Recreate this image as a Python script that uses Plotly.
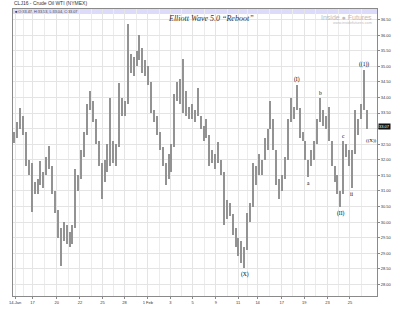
import plotly.graph_objects as go

# ---- data (approximate, per ~3px bar) ----
lows = [32.55, 32.70, 33.00, 32.80, 31.80, 31.50, 30.33, 30.90, 30.90, 31.20,
        31.10, 31.50, 31.70, 30.90, 30.30, 29.50, 28.58, 29.40, 29.30, 29.20,
        29.30, 29.80, 31.00, 31.40, 32.10, 32.80, 33.60, 33.20, 32.50, 31.80,
        30.74, 31.30, 31.60, 31.80, 31.90, 31.80, 32.40, 33.40, 33.40, 33.80,
        34.80, 34.70, 35.00, 35.20, 34.80, 34.70, 34.40, 33.50, 33.20, 32.80,
        32.30, 31.80, 31.20, 31.40, 31.60, 32.40, 33.90, 33.80, 33.50, 33.40,
        33.30, 33.30, 33.20, 33.40, 33.00, 32.60, 32.70, 31.80, 31.90, 31.70,
        31.90, 31.50, 29.90, 30.10, 30.20, 29.60, 29.20, 28.90, 28.70, 28.52,
        29.10, 30.00, 30.50, 31.20, 31.50, 31.50, 32.00, 32.30, 33.00, 32.30,
        31.20, 30.75, 31.00, 31.40, 32.00, 33.20, 33.30, 33.60, 32.70, 32.60,
        32.00, 31.44, 31.80, 32.00, 32.50, 33.20, 33.10, 33.00, 32.60, 31.80,
        31.30, 30.90, 30.50, 30.90, 32.10, 31.80, 31.10, 32.20, 32.80, 33.30,
        33.60, 33.00]
highs = [32.90, 33.20, 33.66, 33.40, 32.90, 32.00, 31.90, 31.30, 31.40, 31.95,
         31.60, 32.10, 32.43, 31.80, 31.00, 30.40, 29.80, 30.00, 29.90, 29.70,
         29.90, 31.70, 31.50, 32.30, 32.90, 33.80, 34.21, 33.90, 33.30, 32.60,
         31.90, 32.00, 32.50, 34.00, 32.60, 32.50, 34.45, 34.00, 33.90, 36.36,
         35.40, 35.30, 35.50, 36.00, 35.60, 35.20, 35.00, 34.50, 33.60, 33.40,
         32.90, 32.40, 31.90, 32.20, 32.50, 34.10, 34.50, 34.60, 35.25, 34.20,
         33.70, 33.80, 33.60, 34.30, 33.40, 33.10, 33.30, 32.80, 32.30, 32.20,
         32.58, 32.00, 31.60, 30.70, 30.60, 30.25, 29.80, 29.50, 29.40, 29.20,
         30.30, 30.60, 31.90, 31.80, 32.20, 32.00, 32.70, 33.00, 33.90, 33.30,
         32.30, 31.40, 31.50, 32.10, 33.30, 34.00, 33.70, 34.40, 33.65, 32.90,
         32.60, 32.00, 32.30, 32.60, 33.30, 33.98, 33.60, 33.40, 33.70, 32.60,
         31.80, 31.50, 31.00, 32.60, 32.50, 32.30, 32.30, 33.60, 33.30, 33.80,
         34.87, 33.60]

tick_labels = ["14-Jan", "17", "20", "22", "25", "28", "1 Feb", "3", "5", "9",
               "11", "14", "17", "19", "23", "25"]
tick_bars = [0.2, 6.2, 14.5, 22.5, 30.2, 37.8, 45.8, 53.5, 61.2, 69.2,
             76.8, 83.5, 91.8, 99.5, 107.5, 115.2]
price_ticks = [28.0, 28.5, 29.0, 29.5, 30.0, 30.5, 31.0, 31.5, 32.0, 32.5,
               33.0, 33.5, 34.0, 34.5, 35.0, 35.5, 36.0, 36.5]

# wave labels: (bar index, text, side)
waves = [(79, "(X)", "low"), (97, "(I)", "high"), (101, "a", "low"),
         (105, "b", "high"), (112, "(II)", "low"), (113, "c", "high"),
         (116, "ii", "low"), (120, "((1))", "high")]
last_close = 33.07
legend_text = "\u25a0 O:33.47, H:33.53, L:33.04, C:33.07"

n = len(highs)
xs = list(range(n))
minor_vals = [(a + b) / 2 for a, b in zip(tick_bars[:-1], tick_bars[1:])] + [tick_bars[-1] + 4]
# the last-price box covers the nearest price label
price_text = ["" if abs(v - last_close) < 0.25 else "%.2f" % v for v in price_ticks]

fig = go.Figure()
fig.add_trace(go.Bar(
    x=xs, base=lows, y=[h - l for h, l in zip(highs, lows)],
    width=0.5, marker=dict(color="#939393", line=dict(width=0)),
    hoverinfo="skip", showlegend=False))

lab_font = dict(family="Liberation Serif", size=5.5, color="#000")
annotations = []
for idx, txt, side in waves:
    if side == "high":
        annotations.append(dict(x=idx, y=highs[idx], text=txt, showarrow=False,
                                yanchor="bottom", yshift=0, font=lab_font))
    else:
        annotations.append(dict(x=idx, y=lows[idx], text=txt, showarrow=False,
                                yanchor="top", yshift=-1, font=lab_font))
annotations.append(dict(x=n - 1, y=lows[-1], text="((X))", showarrow=False,
                        xanchor="center", yanchor="middle", xshift=5, yshift=-12,
                        font=dict(family="Liberation Serif", size=5, color="#000")))
# last price box on right axis
annotations.append(dict(xref="paper", x=1, y=last_close, text="%.2f" % last_close,
                        showarrow=False, xanchor="left", xshift=1, bgcolor="#111",
                        borderpad=0, font=dict(family="Liberation Sans", size=4, color="#fff")))
# titles / texts
annotations += [
    dict(xref="paper", yref="paper", x=0, y=1, xshift=-1, yshift=6, xanchor="left",
         yanchor="middle", text="CLJ16 - Crude Oil WTI (NYMEX)", showarrow=False,
         font=dict(family="Liberation Sans", size=5, color="#333")),
    dict(xref="paper", yref="paper", x=0, y=1, xshift=0, yshift=-2.5, xanchor="left",
         yanchor="middle", text=legend_text, showarrow=False,
         font=dict(family="Liberation Sans", size=3.8, color="#444")),
    dict(xref="paper", yref="paper", x=0.5, y=1, xshift=16, yshift=-9, xanchor="center",
         yanchor="middle", text="<i>Elliott Wave 5.0 \u201cReboot\u201d</i>", showarrow=False,
         font=dict(family="Liberation Serif", size=8, color="#333")),
    dict(xref="paper", yref="paper", x=1, y=1, xshift=-3, yshift=-8, xanchor="right",
         yanchor="middle", text="Inside \u25cf Futures", showarrow=False,
         font=dict(family="Liberation Sans", size=7, color="#bdbdbd")),
    dict(xref="paper", yref="paper", x=1, y=1, xshift=-3, yshift=-14, xanchor="right",
         yanchor="middle", text="www.insidefutures.com", showarrow=False,
         font=dict(family="Liberation Sans", size=3.8, color="#bdbdbd")),
]

fig.update_layout(
    width=400, height=313,
    margin=dict(l=13, r=12, t=8, b=15),
    paper_bgcolor="#ffffff", plot_bgcolor="#ffffff",
    bargap=0, showlegend=False,
    annotations=annotations,
    shapes=[dict(type="rect", xref="paper", yref="paper", x0=0, x1=1, y0=1,
                 y1=0.983, fillcolor="#dcdcfa", line=dict(width=0), layer="below")],
    xaxis=dict(range=[-0.5, 124.5], tickmode="array", tickvals=tick_bars,
               ticktext=tick_labels, showgrid=True, gridcolor="#e4e4e4", gridwidth=1,
               showline=True, linecolor="#8a8a8a", linewidth=1, mirror=True,
               ticks="outside", ticklen=2, tickcolor="#8a8a8a",
               tickfont=dict(family="Liberation Sans", size=4, color="#333"),
               minor=dict(tickmode="array", tickvals=minor_vals, showgrid=True,
                          gridcolor="#ececec", gridwidth=1),
               zeroline=False, fixedrange=True),
    yaxis=dict(range=[27.63, 36.84], side="right", tickmode="array",
               tickvals=price_ticks, ticktext=price_text,
               showgrid=True, gridcolor="#e4e4e4", gridwidth=1,
               showline=True, linecolor="#8a8a8a", linewidth=1, mirror=True,
               ticks="outside", ticklen=2, tickcolor="#8a8a8a",
               tickfont=dict(family="Liberation Sans", size=4, color="#333"),
               zeroline=False, fixedrange=True),
)

fig.write_html("out.html")
